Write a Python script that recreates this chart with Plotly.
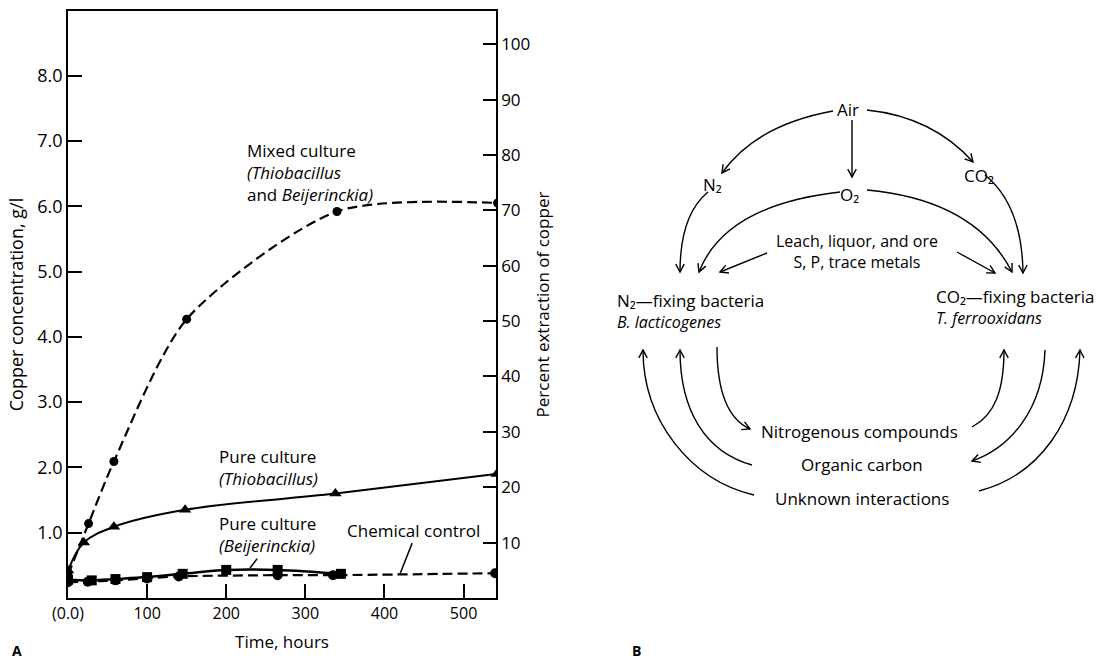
import math
import plotly.graph_objects as go

W, H = 1106, 662

# ---------------- Panel A data (time in hours, copper in g/l) ----------------
mixed_t = [0, 26, 58, 150, 340, 543]
mixed_cu = [0.35, 1.14, 2.09, 4.27, 5.92, 6.05]

thio_t = [0, 20, 58, 148, 338, 542]
thio_cu = [0.42, 0.85, 1.09, 1.35, 1.60, 1.90]

beij_t = [0, 30, 60, 100, 145, 200, 265, 345]
beij_cu = [0.28, 0.27, 0.29, 0.32, 0.37, 0.43, 0.43, 0.37]

chem_t = [0, 25, 60, 100, 140, 265, 335, 540]
chem_cu = [0.24, 0.25, 0.27, 0.30, 0.33, 0.35, 0.35, 0.38]

x_ticks = [0, 100, 200, 300, 400, 500]
x_ticklabels = ["(0.0)", "100", "200", "300", "400", "500"]
left_ticks = [1, 2, 3, 4, 5, 6, 7, 8]
left_ticklabels = ["1.0", "2.0", "3.0", "4.0", "5.0", "6.0", "7.0", "8.0"]
right_ticks = [10, 20, 30, 40, 50, 60, 70, 80, 90, 100]
right_ticklabels = ["10", "20", "30", "40", "50", "60", "70", "80", "90", "100"]

FONT = "Open Sans"
BLACK = "black"

# plot-area box of panel A in page pixels
PX0, PX1, PY0, PY1 = 68, 496, 11, 598

fig = go.Figure()

fig.add_trace(go.Scatter(
    x=mixed_t, y=mixed_cu, mode="lines+markers",
    line=dict(color=BLACK, width=2.2, dash="10px,5px", shape="spline", smoothing=0.75),
    marker=dict(symbol="circle", size=9, color=BLACK), showlegend=False, hoverinfo="skip"))

fig.add_trace(go.Scatter(
    x=thio_t, y=thio_cu, mode="lines+markers",
    line=dict(color=BLACK, width=2, shape="spline", smoothing=1.0),
    marker=dict(symbol="triangle-up", size=11, color=BLACK), showlegend=False, hoverinfo="skip"))

fig.add_trace(go.Scatter(
    x=chem_t, y=chem_cu, mode="lines+markers",
    line=dict(color=BLACK, width=2.2, dash="10px,5px", shape="spline", smoothing=0.8),
    marker=dict(symbol="circle", size=10, color=BLACK), showlegend=False, hoverinfo="skip"))

fig.add_trace(go.Scatter(
    x=beij_t, y=beij_cu, mode="lines+markers",
    line=dict(color=BLACK, width=2.5, shape="spline", smoothing=1.0),
    marker=dict(symbol="square", size=10, color=BLACK), showlegend=False, hoverinfo="skip"))

# invisible trace that attaches the right-hand percent axis
fig.add_trace(go.Scatter(x=[0], y=[0], yaxis="y2", mode="markers",
                         marker=dict(opacity=0), showlegend=False, hoverinfo="skip"))

axis_common = dict(showline=True, linecolor=BLACK, linewidth=1.5, ticks="inside",
                   tickcolor=BLACK, tickwidth=1.5, showgrid=False, zeroline=False,
                   automargin=False)

fig.update_layout(
    template="none",
    width=W, height=H,
    margin=dict(l=PX0, r=W - PX1, t=PY0, b=H - PY1, pad=0),
    paper_bgcolor="white", plot_bgcolor="white",
    font=dict(family=FONT, size=16, color=BLACK),
    xaxis=dict(domain=[0, 1], range=[0, 541], tickvals=x_ticks,
               ticktext=x_ticklabels, ticklen=14, mirror=True,
               tickfont=dict(family=FONT, size=16, color=BLACK),
               title=dict(text="Time, hours", font=dict(family=FONT, size=17), standoff=13),
               **axis_common),
    yaxis=dict(domain=[0, 1], range=[0, 8.99], tickvals=left_ticks,
               ticktext=left_ticklabels, ticklen=14,
               tickfont=dict(family=FONT, size=18, color=BLACK),
               title=dict(text="Copper concentration, g/l", font=dict(family=FONT, size=18), standoff=9),
               **axis_common),
    yaxis2=dict(overlaying="y", side="right", anchor="x", range=[0, 106],
                tickvals=right_ticks, ticktext=right_ticklabels, ticklen=13,
                tickfont=dict(family=FONT, size=17, color=BLACK),
                title=dict(text="Percent extraction of copper", font=dict(family=FONT, size=17), standoff=8),
                **axis_common),
)

annotations = []
shapes = []

def txt(x, y, s, xref="x", yref="y", xanchor="left", yanchor="middle", size=17, bold=False, align="left"):
    annotations.append(dict(x=x, y=y, xref=xref, yref=yref, text=(f"<b>{s}</b>" if bold else s),
                            showarrow=False, xanchor=xanchor, yanchor=yanchor, align=align,
                            font=dict(family=FONT, size=size, color=BLACK)))

# Panel A curve labels (data coordinates)
txt(224, 6.52, "Mixed culture<br><i>(Thiobacillus</i><br>and <i>Beijerinckia)</i>")
txt(188, 2.00, "Pure culture<br><i>(Thiobacillus)</i>")
txt(188, 0.965, "Pure culture<br><i>(Beijerinckia)</i>")
txt(350, 1.04, "Chemical control")

# leader lines for labels
shapes.append(dict(type="line", xref="x", yref="y", x0=239, y0=0.60, x1=230, y1=0.46,
                   line=dict(color=BLACK, width=1.5)))
shapes.append(dict(type="line", xref="x", yref="y", x0=435, y0=0.84, x1=420, y1=0.38,
                   line=dict(color=BLACK, width=1.5)))

# ---------------- Panel B diagram (page-pixel positions -> paper) ----------------
def fx(px):
    return (px - PX0) / (PX1 - PX0)

def fy(py):
    return (PY1 - py) / (PY1 - PY0)

def P(x, y):
    return f"{fx(x):.5f},{fy(y):.5f}"

def head(tip, frm, L=9, ang=28):
    dx, dy = tip[0] - frm[0], tip[1] - frm[1]
    n = math.hypot(dx, dy)
    dx, dy = dx / n, dy / n
    pts = []
    for s in (1, -1):
        a = math.radians(ang * s)
        rx = dx * math.cos(a) - dy * math.sin(a)
        ry = dx * math.sin(a) + dy * math.cos(a)
        pts.append((tip[0] - L * rx, tip[1] - L * ry))
    return f"M{P(*pts[0])} L{P(*tip)} L{P(*pts[1])}"

def curve(pts, arrow=True):
    if len(pts) == 2:
        path = f"M{P(*pts[0])} L{P(*pts[1])}"
    elif len(pts) == 3:
        path = f"M{P(*pts[0])} Q{P(*pts[1])} {P(*pts[2])}"
    else:
        path = f"M{P(*pts[0])} C{P(*pts[1])} {P(*pts[2])} {P(*pts[3])}"
    shapes.append(dict(type="path", path=path, xref="paper", yref="paper",
                       line=dict(color=BLACK, width=1.4)))
    if arrow:
        shapes.append(dict(type="path", path=head(pts[-1], pts[-2]), xref="paper",
                           yref="paper", line=dict(color=BLACK, width=1.4)))

arrows = [
    [(833, 111), (756, 125), (722, 173)],            # Air -> N2
    [(852, 120), (852, 177)],                        # Air -> O2
    [(867, 110), (933, 117), (973, 162)],            # Air -> CO2
    [(708, 192), (680, 215), (680, 272)],            # N2 -> N2-fixing
    [(840, 192), (725, 205), (699, 272)],            # O2 -> N2-fixing
    [(767, 253), (720, 272)],                        # Leach -> N2-fixing
    [(867, 190), (975, 200), (1012, 272)],           # O2 -> CO2-fixing
    [(985, 175), (1022, 205), (1023, 273)],          # CO2 -> CO2-fixing
    [(957, 252), (995, 273)],                        # metals -> CO2-fixing
    [(754, 495), (690, 480), (643, 420), (643, 350)],  # Unknown -> N2-fixing
    [(752, 465), (705, 452), (680, 410), (680, 350)],  # Organic carbon -> N2-fixing
    [(717, 347), (717, 395), (730, 420), (750, 429)],  # N2-fixing -> Nitrogenous
    [(972, 427), (995, 415), (1004, 390), (1004, 350)],  # Nitrogenous -> CO2-fixing
    [(1045, 350), (1043, 410), (1010, 448), (972, 461)],  # CO2-fixing -> Organic carbon
    [(979, 491), (1040, 475), (1078, 420), (1080, 350)],  # Unknown -> CO2-fixing
]
for a in arrows:
    curve(a)

def ptxt(x, y, s, xanchor="center", size=17, bold=False, align="center"):
    txt(fx(x), fy(y), s, xref="paper", yref="paper", xanchor=xanchor, size=size,
        bold=bold, align=align)

ptxt(848, 109, "Air")
ptxt(712, 184, "N₂")
ptxt(849, 194, "O₂")
ptxt(979, 175, "CO₂")
ptxt(857, 251, "Leach, liquor, and ore<br>S, P, trace metals", size=16)
ptxt(615, 300, "N₂—fixing bacteria", xanchor="left", align="left")
ptxt(615, 322, "<i>B. lacticogenes</i>", xanchor="left", align="left", size=16)
ptxt(934, 296, "CO₂—fixing bacteria", xanchor="left", align="left")
ptxt(934, 318, "<i>T. ferrooxidans</i>", xanchor="left", align="left", size=16)
ptxt(859, 431, "Nitrogenous compounds")
ptxt(862, 465, "Organic carbon")
ptxt(862, 498, "Unknown interactions")

# panel letters
ptxt(17, 650, "A", size=14, bold=True)
ptxt(636, 650, "B", size=14, bold=True)

fig.update_layout(annotations=annotations, shapes=shapes)

fig.write_html("out.html", config={"displayModeBar": False},
               post_script="document.body.style.margin='0';")
